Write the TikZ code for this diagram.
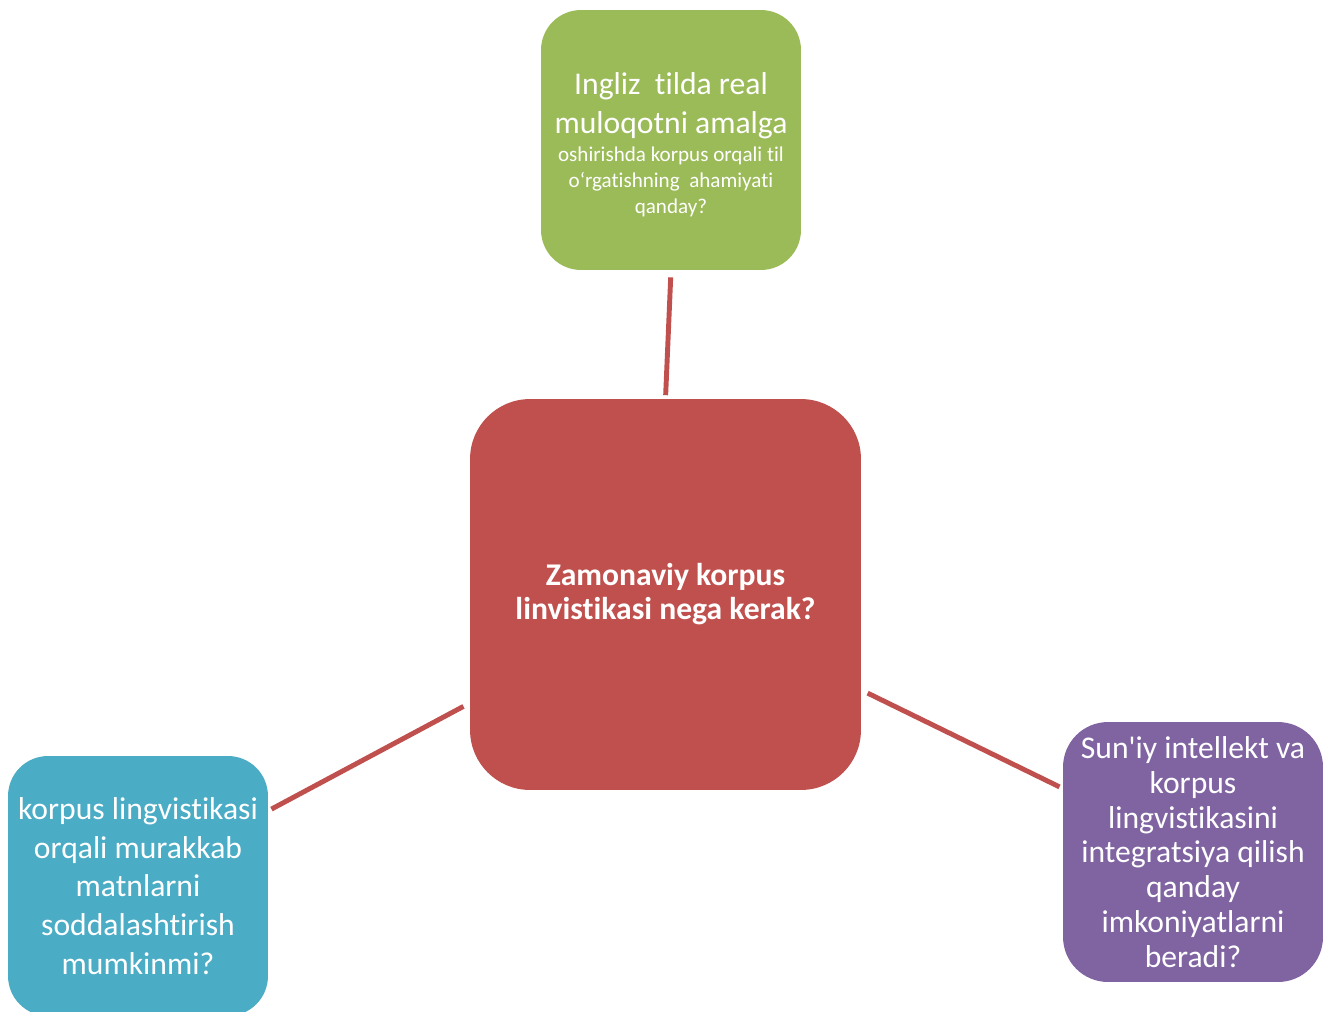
\documentclass[tikz,border=0pt]{standalone}
\usepackage{fontspec}
\setmainfont{Carlito}[Ligatures={TeX,NoCommon}]
\usetikzlibrary{positioning,calc}
\definecolor{boxgreen}{HTML}{9BBB59}
\definecolor{boxred}{HTML}{C0504D}
\definecolor{boxblue}{HTML}{4BACC6}
\definecolor{boxpurple}{HTML}{8064A2}
\newcommand{\bigline}{\fontsize{18}{22}\selectfont}
\newcommand{\smallline}{\fontsize{12}{14.7}\selectfont}
\newcommand{\topfont}{\smallline\lineskiplimit=-30pt\relax}
\begin{document}
\begin{tikzpicture}[x=0.02cm,y=-0.02cm,
  qbox/.style={rectangle,rounded corners=0.8cm,minimum width=5.2cm,minimum height=5.2cm,
    inner sep=0pt,text=white,align=center},
  link/.style={draw=boxred,line width=2.8pt,shorten <=4pt,shorten >=2pt}]
\useasboundingbox (0,0) rectangle (1325,1011);
%center
\node[qbox,fill=boxred,rounded corners=1.2cm,minimum width=7.82cm,minimum height=7.82cm,
  font=\fontsize{18}{19.4}\selectfont\bfseries] (center) at (665.5,594.5)
  {Zamonaviy korpus\\ linvistikasi nega kerak?};
%top
\node[qbox,fill=boxgreen,font=\topfont] (top) at (671,140)
  {\bigline\rule{0pt}{18pt}Ingliz\ \ tilda real\\[7.3pt] \bigline muloqotni amalga\\[1.2pt]
   \smallline oshirishda korpus orqali til\\ \smallline o‘rgatishning\ \ ahamiyati\\ \smallline qanday?};
%left
\node[qbox,fill=boxblue,font=\fontsize{18}{22}\selectfont] (left) at (138,886)
  {korpus lingvistikasi\\ orqali murakkab\\ matnlarni\\ soddalashtirish\\ mumkinmi?};
%right
\node[qbox,fill=boxpurple,rounded corners=0.9cm,font=\fontsize{18}{19.8}\selectfont] (right) at (1193,852)
  {Sun\textquotesingle iy intellekt va\\ korpus\\ lingvistikasini\\ integratsiya qilish\\ qanday\\ imkoniyatlarni\\ beradi?};
%links
\draw[link] (top.south) -- (center.north);
\draw[link] (center.209) -- (left.30);
\draw[link] (center.334) -- (right.154);
\end{tikzpicture}
\end{document}
